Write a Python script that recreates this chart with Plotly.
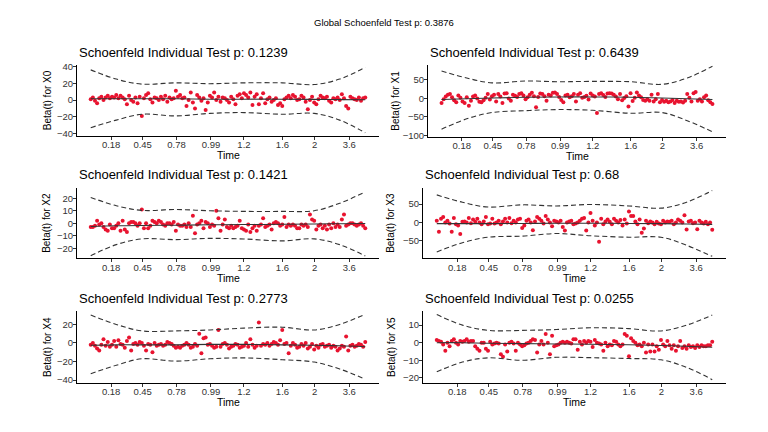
import plotly.graph_objects as go

# rank of event time (x positions of the residuals)
n_events = 130
time_rank = list(range(n_events))
time_tickvals = [9.6, 24.4, 40.3, 56.5, 72, 90.1, 105.2, 121.5]
time_ticktext = ["0.18", "0.45", "0.78", "0.99", "1.2", "1.6", "2", "3.6"]

covariates = ["X0", "X1", "X2", "X3", "X4", "X5"]
p_values = ["0.1239", "0.6439", "0.1421", "0.68", "0.2773", "0.0255"]
global_p = "0.3876"

resid_x0 = [1, 3, -1, -4, 2, 4, 0, 3, 5, 2,
            4, 3, 6, 2, 5, 3, 1, -5, 5, 0,
            -2, 3, -4, 4, -19, 2, 6, 8, 1, -3,
            3, 2, 0, 4, 1, 5, -2, 3, 1, 2,
            11, 4, 6, 2, 3, -7, 0, 9, -3, -10,
            6, 3, -1, 2, -12, -3, 5, 3, 9, 0,
            4, -2, 3, 2, 0, -3, 4, 1, -5, 5,
            7, 2, 8, 6, 3, 9, -6, 4, 7, -5,
            2, 8, -4, 1, 3, -2, 0, 2, -6, -4,
            -7, 1, 3, 5, 2, 6, 4, 0, 1, 5,
            3, -2, -11, 0, 4, -3, -5, 1, 5, 3,
            2, 4, -1, -3, 2, 1, 3, 0, 7, 2,
            -7, -10, 4, 2, 1, 0, 3, -1, 2, 3]
resid_x1 = [-12, -2, 5, 10, 12, 3, -5, -10, 8, 2,
            -8, -12, 3, -20, -6, 5, 8, 0, -9, -10,
            -5, 2, 12, -3, 6, 10, -8, 12, 5, -12,
            13, 14, 0, -6, 10, 7, 4, 12, 14, 8,
            -2, 3, 10, 15, 6, -24, 4, 13, 12, 6,
            -6, 10, 8, 15, 16, 12, 4, -4, -10, 8,
            10, 3, 6, 12, -8, 10, 14, 2, 4, 7,
            -3, 13, 8, 5, -39, 12, 14, 9, 4, 13,
            14, 13, 10, 5, -2, 12, -5, 1, 6, -22,
            14, -7, 2, 16, 8, 3, -4, -6, -2, -6,
            10, -8, -2, 12, -10, -4, -9, -6, -10, -8,
            -4, -12, -6, -9, -8, -11, -6, 12, 2, -8,
            14, 17, -6, -2, -8, 3, 8, -5, -10, -15]
resid_x2 = [-3, -3, -2, 2, -1, 0, -3, -5, -6, -1,
            -4, -4, -2, 0, -6, 2, -5, -7, 0, 1,
            1, 0, -2, 0, 11, -4, 0, -4, -2, 2,
            1, 0, 2, 1, -1, -2, 0, 0, -1, 1,
            -6, -1, -2, -2, -1, -3, 0, -3, 6, -8,
            -1, 0, 2, -4, 1, 0, -3, -1, -2, 10,
            4, -6, -1, 3, -3, -4, -2, -4, -3, -2,
            2, -4, -5, -6, -1, -7, -4, -2, -6, -2,
            -1, 4, -3, -2, -1, -5, 0, 1, 0, -2,
            -1, 5, -3, -1, -2, -1, -2, -4, -4, -1,
            -2, -1, -3, 7, 3, 2, -5, -2, -1, -4,
            -2, -5, -1, -4, 0, -3, -1, -3, 3, 7,
            -2, -1, 0, 0, -1, -2, -1, 0, -2, -4]
resid_x3 = [5, -25, 10, 15, 0, 5, -3, -25, 12, -5,
            -8, -31, 2, 3, 0, 12, -2, 8, 2, 10,
            0, -5, 3, 15, -5, -3, 10, -3, 0, 5,
            -5, 3, 10, 0, 12, -2, 5, 0, 8, 10,
            -15, -8, 5, 8, 0, -21, 3, 15, 10, 5,
            -3, 18, 8, 0, -10, 5, 3, 0, 5, -12,
            -22, 0, 3, 5, -5, -3, 0, 5, 10, 12,
            -22, 0, 26, 5, -8, 0, -52, 10, -5, 3,
            8, 2, -5, 10, 5, 0, 7, -8, 8, -3,
            30, 18, 18, 3, -5, 8, -28, -16, 5, -2,
            3, 0, -5, 2, -3, -5, 5, 0, 3, 2,
            5, -5, 0, 8, 5, 0, 20, -19, 3, 5,
            -2, 0, -18, 5, 0, -3, 2, -5, 0, -20]
resid_x4 = [-2, 0, -3, -6, -8, -2, 4, -3, 1, -4,
            -2, 2, -4, 3, -1, -2, -5, 2, 6, -8,
            -1, 0, -2, 1, 0, -3, -8, -1, -2, -10,
            0, -3, -2, -1, -3, -2, 1, 0, -1, -3,
            -5, -4, -5, -3, -2, 0, -2, -5, -4, -1,
            -3, 10, -11, 5, 6, -2, -1, -3, -5, -4,
            14, -4, -1, 0, -2, -6, -4, -3, -1, -2,
            -5, -4, -3, 0, -4, 4, -2, -5, -3, 22,
            -3, -1, -2, 0, -3, -1, 1, 0, -2, 3,
            14, -1, 0, -11, -3, 0, -2, -5, -4, -1,
            -3, 0, -6, -4, -1, -7, -3, -5, -2, -1,
            -4, -3, -2, -5, -3, -4, -8, -6, -3, -4,
            7, -8, -3, -2, -4, -3, -1, -2, -4, 1]
resid_x5 = [1.5, 1, 0.5, -1, -4.5, 0, -2, 1, 2, 0,
            -1, 1, 0.5, 1, 2, 0.5, 1, 1, -2, -3.5,
            -4.5, 0, 0, -3.5, -4.5, 0.5, -1, -0.5, 0, -0.5,
            -6.5, -8, -1, -5, 0, 0.5, -0.5, -4.5, 0, -1,
            -2, -1.5, -0.5, 0, 1, 2, 1.5, -5.5, -1, 1,
            -1, 5, 0, -6.5, 4, -2, -1.5, -1, 0, 0.5,
            0, 0.5, 0, -0.5, 2, 2, -4, 0.5, -1, 1,
            0, 1, 0.5, -2.5, 1.5, 0, -0.5, -1, -4.5, 0,
            -2, -1, -1.5, 1, 0.5, -1, -2, -1, 5, 4,
            -7.7, 2.5, 1, 0, -1.5, -1, -2, 0, -5.5, -1,
            -5, -1, -5, -2, -4, 1.5, -1, -2, 1, -1.5,
            -3.5, -1.5, -4.5, -2, 1, -3, -2, -3.5, -1.5, -2.5,
            -2, -3, -1.5, -2.5, -1.5, -2, -2, -1.5, -1.5, 0.5]

# smoothed beta(t) and its confidence band, read at a few ranks
knot_rank = [0, 12, 24, 40, 56, 72, 90, 105, 117, 129]
fit_x0 = [1.5, 1.5, 1.5, 1.5, 1, 1, 1, 0.8, 0.5, 0.3]
upper_x0 = [36, 25, 19, 20.5, 19.5, 20.5, 20.5, 18.5, 25, 39]
lower_x0 = [-33, -24, -17, -19, -16, -15, -17, -16, -24, -39]
fit_x1 = [-3, -1, 1, 3, 4, 4, 3, 1, -1, -3]
upper_x1 = [74, 55, 42, 47, 45, 46, 45, 38, 55, 87]
lower_x1 = [-83, -55, -38, -33, -30, -32, -40, -38, -60, -90]
fit_x2 = [-2.5, -2, -1.8, -1.5, -1.2, -1, -0.8, -0.5, -0.3, -0.2]
upper_x2 = [20.6, 14, 10.3, 11, 10, 9.5, 9.5, 10, 16, 25]
lower_x2 = [-25.8, -17, -12.4, -13, -12, -12.5, -14, -12.4, -17, -26]
fit_x3 = [-3, -3, -3, -2.5, -2, -2, -2.5, -3, -4, -5]
upper_x3 = [75, 55, 42, 48, 45, 49, 45, 39, 55, 87]
lower_x3 = [-80, -55, -40, -37, -30, -36, -40, -40, -62, -92]
fit_x4 = [-2.5, -2, -2, -2, -1.5, -1.5, -2, -2.5, -3, -4]
upper_x4 = [30, 20, 13, 13, 14, 16, 17, 14, 20, 31]
lower_x4 = [-33, -24, -17, -19.5, -17, -16, -18, -20.5, -28, -39]
fit_x5 = [0, 0, -0.3, -0.5, -0.7, -0.9, -1.2, -1.6, -2, -2.6]
upper_x5 = [16, 10, 7, 7, 7.5, 8.5, 8, 6.7, 10, 15.7]
lower_x5 = [-16.5, -11, -8.6, -10, -8.3, -8.5, -9, -9.7, -14, -21]

y_ticks = [[-40, -20, 0, 20, 40], [-100, -50, 0, 50], [-20, -10, 0, 10, 20],
           [-50, 0, 50], [-40, -20, 0, 20], [-20, -10, 0, 10]]
y_ranges = [[-42.4, 42], [-102.6, 90.5], [-27.8, 28.5],
            [-97, 95], [-42.9, 34.2], [-22.8, 17.9]]

resids = [resid_x0, resid_x1, resid_x2, resid_x3, resid_x4, resid_x5]
fits = [fit_x0, fit_x1, fit_x2, fit_x3, fit_x4, fit_x5]
uppers = [upper_x0, upper_x1, upper_x2, upper_x3, upper_x4, upper_x5]
lowers = [lower_x0, lower_x1, lower_x2, lower_x3, lower_x4, lower_x5]

# panel boxes in pixels: left, right, top, bottom
W, H = 768, 432
boxes = [(77, 379, 62, 134), (428, 726, 62, 135),
         (77, 379, 187, 259), (423, 726, 187, 259),
         (77, 379, 313, 386), (423, 726, 313, 386)]

FONT = "Liberation Sans, Arial, sans-serif"
fig = go.Figure()
annotations = []

for i, cov in enumerate(covariates):
    k = "" if i == 0 else str(i + 1)
    xa, ya = "x" + k, "y" + k
    fig.add_trace(go.Scatter(x=time_rank, y=resids[i], mode="markers", xaxis=xa, yaxis=ya,
                             marker=dict(color="#e8132f", size=4), showlegend=False))
    fig.add_trace(go.Scatter(x=knot_rank, y=fits[i], mode="lines", xaxis=xa, yaxis=ya,
                             line=dict(color="#333333", width=1.1, shape="spline"), showlegend=False))
    for band in (uppers[i], lowers[i]):
        fig.add_trace(go.Scatter(x=knot_rank, y=band, mode="lines", xaxis=xa, yaxis=ya,
                                 line=dict(color="#333333", width=1.1, dash="5px,3px", shape="spline"),
                                 showlegend=False))

    l, r, t, b = boxes[i]
    axis_style = dict(showline=True, linecolor="black", linewidth=1, showgrid=False, zeroline=False,
                      ticks="outside", ticklen=3, tickcolor="#333333",
                      tickfont=dict(family=FONT, size=9.5, color="#333333"))
    fig.update_layout(**{
        "xaxis" + k: dict(domain=[l / W, r / W], anchor=ya, range=[-6.45, 135.45],
                          tickvals=time_tickvals, ticktext=time_ticktext,
                          ticklabelstandoff=-3, **axis_style),
        "yaxis" + k: dict(domain=[1 - b / H, 1 - t / H], anchor=xa, range=y_ranges[i],
                          tickvals=y_ticks[i], ticklabelstandoff=-2, **axis_style),
    })
    annotations.append(dict(text="Schoenfeld Individual Test p: " + p_values[i], x=l / W, y=1 - (t - 13) / H,
                            xref="paper", yref="paper", xanchor="left", yanchor="middle", showarrow=False,
                            font=dict(family=FONT, size=13, color="black")))
    annotations.append(dict(text="Time", x=(l + r) / 2 / W, y=1 - (b + 20) / H,
                            xref="paper", yref="paper", xanchor="center", yanchor="middle", showarrow=False,
                            font=dict(family=FONT, size=10.5, color="black")))
    annotations.append(dict(text="Beta(t) for " + cov, x=(l - 30 if l < 400 else l - 32) / W,
                            y=1 - (t + b) / 2 / H, textangle=-90,
                            xref="paper", yref="paper", xanchor="center", yanchor="middle", showarrow=False,
                            font=dict(family=FONT, size=10, color="black")))

annotations.append(dict(text="Global Schoenfeld Test p: " + global_p, x=0.5, y=1 - 19 / H,
                        xref="paper", yref="paper", xanchor="center", yanchor="middle", showarrow=False,
                        font=dict(family=FONT, size=9.5, color="black")))

fig.update_layout(width=W, height=H, margin=dict(l=0, r=0, t=0, b=0),
                  paper_bgcolor="white", plot_bgcolor="white", annotations=annotations)

# drop the browser's default body margin so the figure sits at the page corner
fig.write_html("out.html", config={"displayModeBar": False},
               post_script="document.body.style.margin = '0';")
